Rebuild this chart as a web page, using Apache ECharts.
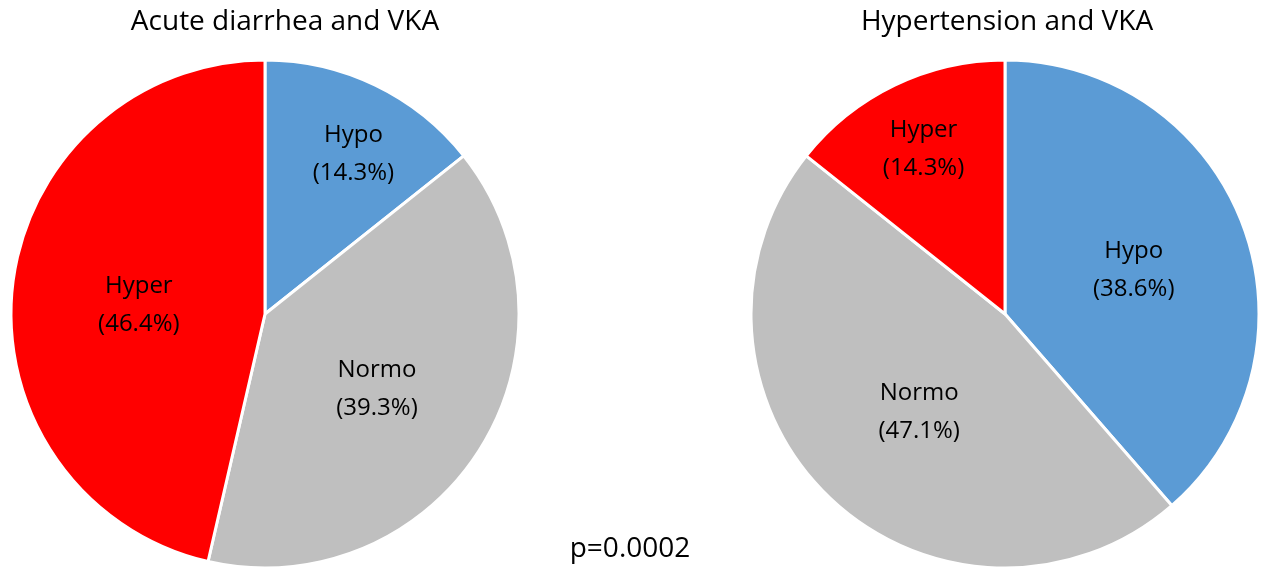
<!DOCTYPE html>
<html><head><meta charset="utf-8">
<script src="https://cdn.jsdelivr.net/npm/echarts@6/dist/echarts.min.js"></script>
<style>html,body{margin:0;padding:0;background:#fff}#c{width:1264px;height:570px}</style>
</head><body><div id="c"></div>
<script>
const categoriesLeft = ['Hypo', 'Normo', 'Hyper'];
const valuesLeft = [14.3, 39.3, 46.4];
const categoriesRight = ['Hypo', 'Normo', 'Hyper'];
const valuesRight = [38.6, 47.1, 14.3];
const titles = ['Acute diarrhea and VKA', 'Hypertension and VKA'];
const pValue = 'p=0.0002';
const colors = {Hypo: '#5B9BD5', Normo: '#BFBFBF', Hyper: '#FF0000'};
const FONT = 'Open Sans';

function mkData(cats, vals, offsets) {
  return cats.map((c, i) => ({
    name: c, value: vals[i],
    itemStyle: {color: colors[c]},
    label: offsets[i] ? {offset: offsets[i]} : {}
  }));
}

const chart = echarts.init(document.getElementById('c'));
const lbl = {position: 'inside', formatter: p => p.name + '\n(' + p.value.toFixed(1) + '%)', fontFamily: FONT, fontSize: 24, lineHeight: 38, color: '#000'};
chart.setOption({
  animation: false,
  title: [
    {text: titles[0], left: 280, top: 3, textAlign: 'center', textStyle: {fontFamily: FONT, fontSize: 28, fontWeight: 'normal', color: '#000'}},
    {text: titles[1], left: 1002, top: 3, textAlign: 'center', textStyle: {fontFamily: FONT, fontSize: 28, fontWeight: 'normal', color: '#000'}},
    {text: pValue, left: 625, top: 530, textAlign: 'center', textStyle: {fontFamily: FONT, fontSize: 28, fontWeight: 'normal', color: '#000'}}
  ],
  series: [
    {
      type: 'pie', center: [265, 314], radius: 254, startAngle: 90, clockwise: true,
      itemStyle: {borderColor: '#fff', borderWidth: 3},
      label: lbl,
      labelLine: {show: false},
      data: mkData(categoriesLeft, valuesLeft, [[32, -43], [2, 6], [3, 6]])
    },
    {
      type: 'pie', center: [1005, 314], radius: 254, startAngle: 90, clockwise: true,
      itemStyle: {borderColor: '#fff', borderWidth: 3},
      label: lbl,
      labelLine: {show: false},
      data: mkData(categoriesRight, valuesRight, [[7, 2], [4, 4], [-25, -48]])
    }
  ]
});
</script></body></html>
